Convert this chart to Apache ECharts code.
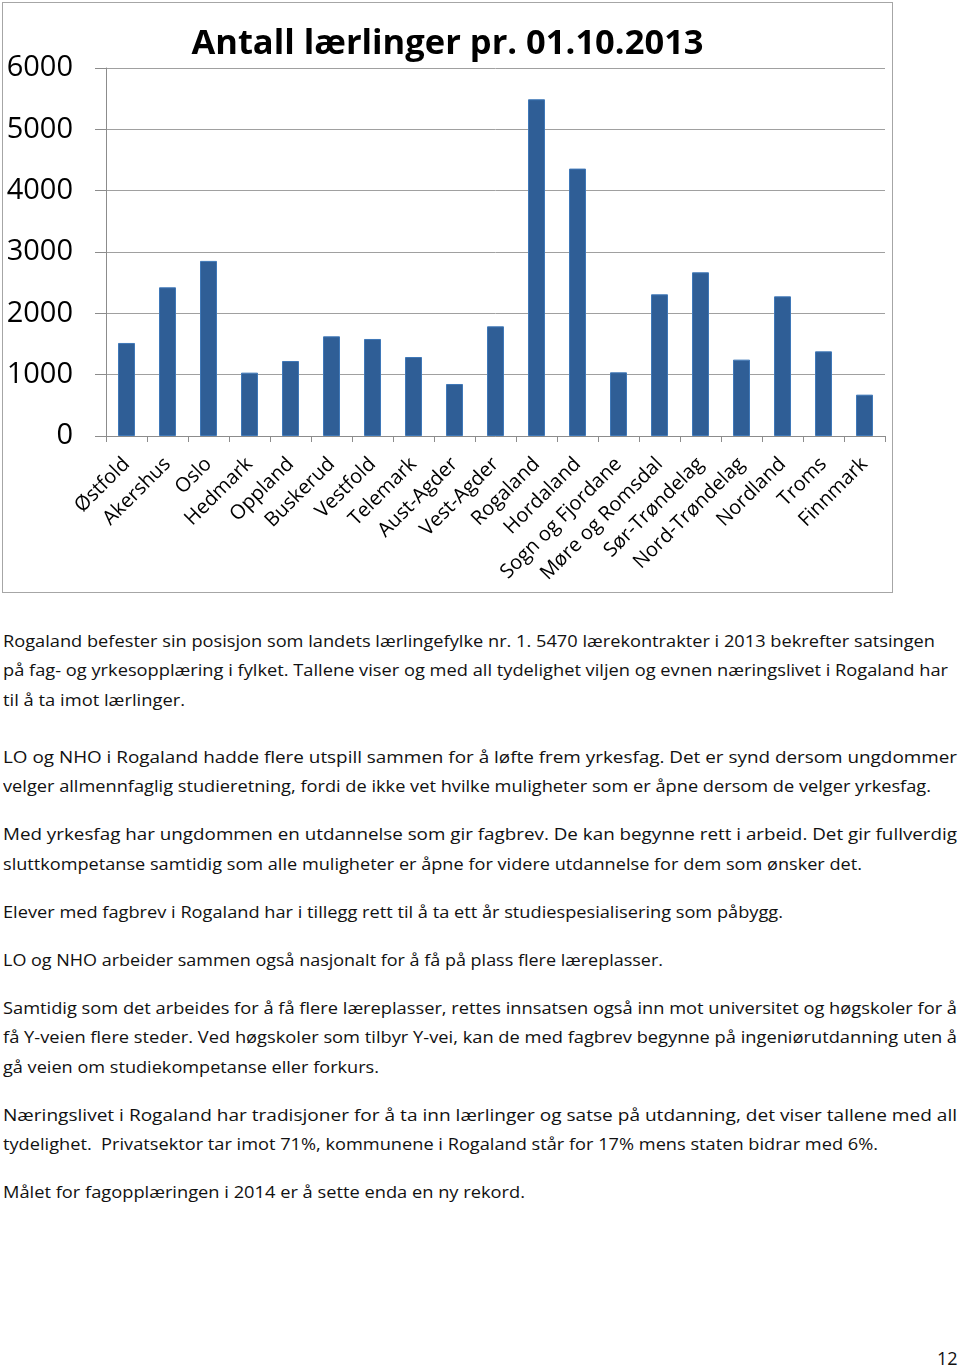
<!DOCTYPE html>
<html>
<head>
<meta charset="UTF-8">
<title>Antall lærlinger pr. 01.10.2013</title>
<script src="https://cdn.jsdelivr.net/npm/echarts@6/dist/echarts.min.js"></script>
<style>
  body { margin: 0; background: #fff; font-family: "Open Sans", sans-serif; }
  #main { position: absolute; left: 2px; top: 2px; width: 891px; height: 591px;
          border: 1px solid #a6a6a6; box-sizing: border-box; }
  .line { position: absolute; left: 3px; white-space: nowrap; font-size: 17px;
          line-height: 22px; color: #111; transform-origin: 0 50%; }
  #page { position: absolute; left: 937px; top: 1346px; font-size: 18px; color: #111; }
</style>
</head>
<body>
<div id="main"></div>
<div id="text"></div>
<div id="page">12</div>
<script>
// fylker og antall lærlinger
var fylker = ['Østfold', 'Akershus', 'Oslo', 'Hedmark', 'Oppland', 'Buskerud', 'Vestfold',
  'Telemark', 'Aust-Agder', 'Vest-Agder', 'Rogaland', 'Hordaland', 'Sogn og Fjordane',
  'Møre og Romsdal', 'Sør-Trøndelag', 'Nord-Trøndelag', 'Nordland', 'Troms', 'Finnmark'];
var laerlinger = [1517, 2424, 2855, 1033, 1223, 1625, 1582, 1288, 848, 1788,
  5490, 4360, 1038, 2310, 2669, 1245, 2277, 1380, 674];
var yTicks = [0, 1000, 2000, 3000, 4000, 5000, 6000];

var myChart = echarts.init(document.getElementById('main'));
var option = {
  animation: false,
  title: {
    text: 'Antall lærlinger pr. 01.10.2013',
    left: 'center',
    top: 19,
    textStyle: { fontFamily: 'Open Sans', fontWeight: 'bold', fontSize: 34.5, color: '#000' }
  },
  grid: { left: 103, top: 65, width: 779, height: 368, outerBoundsMode: 'none', containLabel: false },
  xAxis: {
    type: 'category',
    data: fylker,
    axisLine: { lineStyle: { color: '#8c8c8c' } },
    axisTick: { show: true, length: 6, lineStyle: { color: '#8c8c8c' } },
    axisLabel: { rotate: 45, margin: 25, fontSize: 20, color: '#000', fontFamily: 'Open Sans', interval: 0 }
  },
  yAxis: {
    type: 'value',
    min: yTicks[0],
    max: yTicks[yTicks.length - 1],
    interval: 1000,
    axisLine: { show: true, lineStyle: { color: '#8c8c8c' } },
    axisTick: { show: true, length: 11, lineStyle: { color: '#8c8c8c' } },
    splitLine: { lineStyle: { color: '#a0a0a0' } },
    axisLabel: {
      margin: 33, fontSize: 29, color: '#000', fontFamily: 'Open Sans',
      formatter: function (v) { return String(v); }
    }
  },
  series: [{
    type: 'bar',
    data: laerlinger,
    barWidth: 17,
    itemStyle: { color: '#2f5e96', borderColor: '#3f78b8', borderWidth: 1 }
  }]
};
myChart.setOption(option);

// brødtekst under diagrammet: [tekst, midt-y, slutt-x]
var linjer = [
  ['Rogaland befester sin posisjon som landets lærlingefylke nr. 1. 5470 lærekontrakter i 2013 bekrefter satsingen', 641, 935],
  ['på fag- og yrkesopplæring i fylket. Tallene viser og med all tydelighet viljen og evnen næringslivet i Rogaland har', 670, 948],
  ['til å ta imot lærlinger.', 700, 185],
  ['LO og NHO i Rogaland hadde flere utspill sammen for å løfte frem yrkesfag. Det er synd dersom ungdommer', 757, 957],
  ['velger allmennfaglig studieretning, fordi de ikke vet hvilke muligheter som er åpne dersom de velger yrkesfag.', 786, 931],
  ['Med yrkesfag har ungdommen en utdannelse som gir fagbrev. De kan begynne rett i arbeid. Det gir fullverdig', 834, 957],
  ['sluttkompetanse samtidig som alle muligheter er åpne for videre utdannelse for dem som ønsker det.', 864, 862],
  ['Elever med fagbrev i Rogaland har i tillegg rett til å ta ett år studiespesialisering som påbygg.', 912, 783],
  ['LO og NHO arbeider sammen også nasjonalt for å få på plass flere læreplasser.', 960, 663],
  ['Samtidig som det arbeides for å få flere læreplasser, rettes innsatsen også inn mot universitet og høgskoler for å', 1008, 957],
  ['få Y-veien flere steder. Ved høgskoler som tilbyr Y-vei, kan de med fagbrev begynne på ingeniørutdanning uten å', 1037, 957],
  ['gå veien om studiekompetanse eller forkurs.', 1067, 379],
  ['Næringslivet i Rogaland har tradisjoner for å ta inn lærlinger og satse på utdanning, det viser tallene med all', 1115, 957],
  ['tydelighet.  Privatsektor tar imot 71%, kommunene i Rogaland står for 17% mens staten bidrar med 6%.', 1144, 878],
  ['Målet for fagopplæringen i 2014 er å sette enda en ny rekord.', 1192, 525]
];
var box = document.getElementById('text');
linjer.forEach(function (l) {
  var d = document.createElement('div');
  d.className = 'line';
  d.style.whiteSpace = 'pre';
  d.textContent = l[0];
  d.style.top = (l[1] - 11) + 'px';
  box.appendChild(d);
  var w = d.getBoundingClientRect().width;
  d.style.transform = 'scaleX(' + ((l[2] - 3) / w) + ')';
});
</script>
</body>
</html>
